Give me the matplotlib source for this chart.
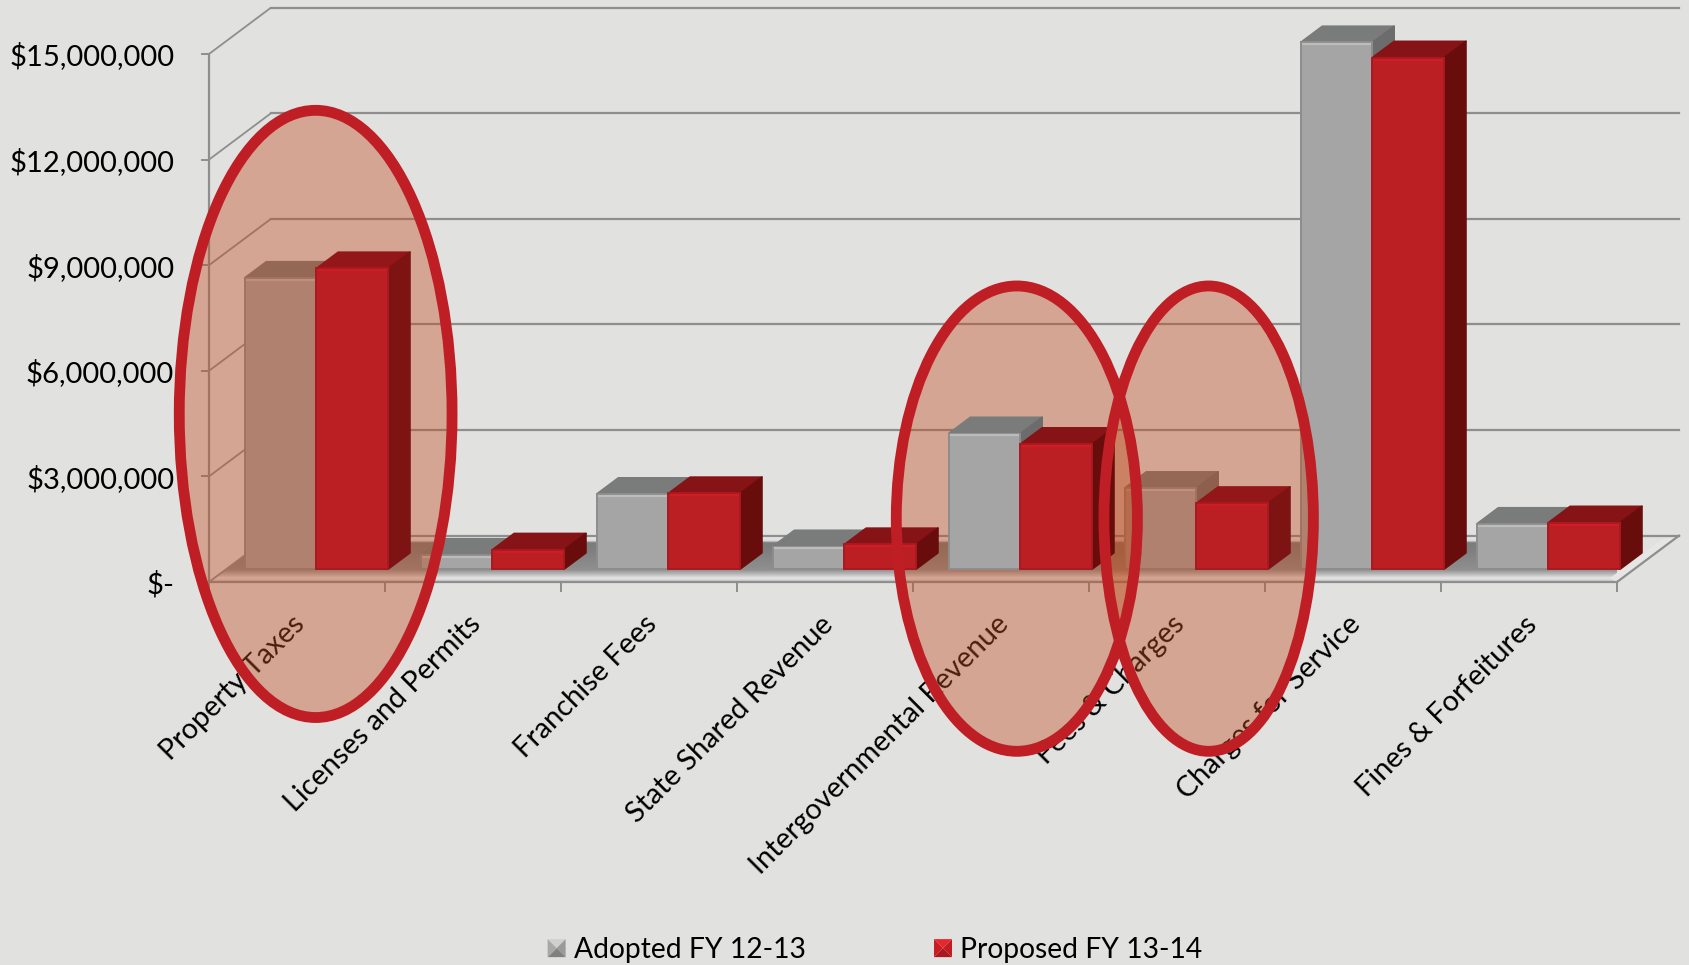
import numpy as np
import matplotlib
matplotlib.use("Agg")
import matplotlib.pyplot as plt
from matplotlib.patches import Ellipse, Polygon
from matplotlib.legend_handler import HandlerBase
from matplotlib.colors import LinearSegmentedColormap

categories = ["Property Taxes", "Licenses and Permits", "Franchise Fees", "State Shared Revenue",
              "Intergovernmental Revenue", "Fees & Charges", "Charges for Service", "Fines & Forfeitures"]
adopted = [8270000, 400000, 2130000, 640000, 3850000, 2300000, 14960000, 1280000]
proposed = [8540000, 550000, 2150000, 700000, 3550000, 1870000, 14530000, 1320000]
y_ticks = [0, 3000000, 6000000, 9000000, 12000000, 15000000]
y_labels = ["$-", "$3,000,000", "$6,000,000", "$9,000,000", "$12,000,000", "$15,000,000"]
series_names = ["Adopted FY 12-13", "Proposed FY 13-14"]
# highlight ovals: centre category position, centre value, width (categories), height (value)
ovals = [(0.606, 4775000, 1.55, 17250000),
         (4.59, 1800000, 1.37, 13220000),
         (5.68, 1800000, 1.19, 13220000)]

W, H = 1690, 965
BG = "#e1e1e0"
GRID = "#8e8e8e"
FONT = "Lato"
plt.rcParams["font.family"] = [FONT, "DejaVu Sans"]

fig = plt.figure(figsize=(W / 100, H / 100), dpi=100, facecolor=BG)
ax = fig.add_axes([209 / W, 1 - 582 / H, (1617 - 209) / W, (582 - 54) / H])
ax.patch.set_visible(False)
ax.set_xlim(0, 8)
ax.set_ylim(0, 15000000)

DX, DY = 0.352, 1316000      # full depth of the 3-D box, in data units
D0, D1 = 0.28, 0.63          # bar depth range
BW, SHIFT = 0.408, 0.012
FILL_Z = 10
RING_Z = 30


def pt(x, y, d):
    return (x + d * DX, y + d * DY)


# floor gradient
grad = LinearSegmentedColormap.from_list("floor", [
    (0.00, "#c4c4c4"), (0.08, "#e6e6e6"), (0.16, "#bcbcbc"), (0.26, "#8f8f8f"),
    (0.70, "#7d7f7e"), (0.84, "#7c7c7c"), (0.88, "#dcdcdc"), (1.00, "#ededed")])
im = ax.imshow(np.linspace(1, 0, 200).reshape(-1, 1), cmap=grad, vmin=0, vmax=1, aspect="auto",
               extent=(0, 8 + DX, 0, DY), zorder=1, interpolation="bilinear")
floor = Polygon([pt(0, 0, 0), pt(8, 0, 0), pt(8, 0, 1), pt(0, 0, 1)], closed=True, transform=ax.transData)
im.set_clip_path(floor)
ax.set_xlim(0, 8)
ax.set_ylim(0, 15000000)
# light right margin of the floor
ax.add_patch(Polygon([pt(7.93, 0, 0.08), pt(8, 0, 0), pt(8, 0, 1), pt(7.93, 0, 0.9)], closed=True,
                     fc="#e6e6e6", ec="none", zorder=1.1, clip_on=False))

# walls
for v in y_ticks:
    ax.plot([0, DX], [v, v + DY], color=GRID, lw=1.3, zorder=1.5, clip_on=False, solid_capstyle="butt")
    ax.plot([DX, 8 + DX], [v + DY, v + DY], color=GRID, lw=1.6, zorder=1.5, clip_on=False)
ax.plot([8, 8 + DX], [0, DY], color=GRID, lw=1.6, zorder=1.5, clip_on=False)

GRAY = ("#a5a5a5", "#7a7c7b", "#6c6c6c", "#8d8d8d", "#bcbcbc")
RED = ("#bb1f24", "#861315", "#690c0c", "#a81a1f", "#d01c24")
RED_TINT = ("#bb1f24", "#931618", "#7d1313", "#a81a1f", "#cc1c24")
x_idx = np.arange(len(categories))
for i in x_idx:
    for s, vals in enumerate((adopted, proposed)):
        if s == 0:
            front, top, side, edge, hi = GRAY
            # the adopted bars lie under the ovals, except the Intergovernmental one
            base_z = (FILL_Z + 1 if i == 4 else 2) + i * 0.1
        else:
            front, top, side, edge, hi = RED_TINT if i in (0, 5) else RED
            base_z = FILL_Z + 2 + i * 0.1
        v = vals[i]
        xl = i + 0.5 - BW + s * BW + SHIFT
        xr = xl + BW
        ax.add_patch(Polygon([pt(xl, v, D0), pt(xr, v, D0), pt(xr, v, D1), pt(xl, v, D1)], closed=True,
                             fc=top, ec=top, lw=1.2, joinstyle="round", zorder=base_z, clip_on=False))
        ax.add_patch(Polygon([pt(xr, 0, D0), pt(xr, v, D0), pt(xr, v, D1), pt(xr, 0, D1)], closed=True,
                             fc=side, ec=side, lw=1.2, joinstyle="round", zorder=base_z, clip_on=False))
        ax.bar(xl + D0 * DX, v, BW, bottom=D0 * DY, align="edge", color=front, edgecolor=edge, lw=1.4,
               zorder=base_z + 0.001, clip_on=False)
        ax.plot([xl + D0 * DX + 0.008, xr + D0 * DX - 0.008], [v + D0 * DY - 55000] * 2, color=hi, lw=1.6,
                zorder=base_z + 0.002, clip_on=False, solid_capstyle="butt")

# axes
for sp in ("top", "right"):
    ax.spines[sp].set_visible(False)
for sp in ("left", "bottom"):
    ax.spines[sp].set_color(GRID)
    ax.spines[sp].set_linewidth(1.6)
    ax.spines[sp].set_zorder(1.6)
ax.set_axisbelow(True)
ax.set_yticks(y_ticks, y_labels)
ax.tick_params(axis="y", length=6, width=1.4, color=GRID, pad=19, labelsize=21, labelcolor="black")
ax.set_xticks(np.arange(len(categories) + 1), [""] * (len(categories) + 1))
ax.tick_params(axis="x", which="major", length=7, width=1.4, color=GRID)
ax.set_xticks(x_idx + 0.47, categories, minor=True)
ax.tick_params(axis="x", which="minor", length=0, pad=21, labelsize=20.8, labelcolor="black")
for lab in ax.get_xticklabels(minor=True):
    lab.set_rotation(45)
    lab.set_ha("right")
    lab.set_rotation_mode("anchor")

# highlight ovals
for cx, cy, w, h in ovals:
    ax.add_patch(Ellipse((cx, cy), w, h, fc=(191 / 255, 76 / 255, 29 / 255, 0.4), ec="none",
                         zorder=FILL_Z, clip_on=False))
for cx, cy, w, h in ovals:
    ax.add_patch(Ellipse((cx, cy), w, h, fc="none", ec="#be1e24", lw=7.8, zorder=RING_Z, clip_on=False))


# legend with pyramid-shaded markers
class PyramidHandler(HandlerBase):
    def __init__(self, shades):
        super().__init__()
        self.shades = shades

    def create_artists(self, legend, orig, xd, yd, width, height, fontsize, trans):
        s = 18 / 100 * 72
        x0, y0 = -xd + width - s, -yd + height / 2 - s / 2
        c = (x0 + s / 2, y0 + s / 2)
        corners = [(x0, y0 + s), (x0 + s, y0 + s), (x0 + s, y0), (x0, y0)]
        arts = []
        for k, col in enumerate(self.shades):
            arts.append(Polygon([corners[k], corners[(k + 1) % 4], c], closed=True, fc=col, ec="none", transform=trans))
        return arts


h1, = ax.plot([], [], label=series_names[0])
h2, = ax.plot([], [], label=series_names[1])
fig.legend(handles=[h1, h2], loc="center", bbox_to_anchor=(870 / W, 1 - 950 / H), ncols=2, frameon=False,
           fontsize=20.3, handlelength=1.0, handletextpad=0.3, columnspacing=4.18, labelcolor="black",
           handler_map={h1: PyramidHandler(["#d0d0d0", "#9a9a9a", "#808080", "#a8a8a8"]),
                        h2: PyramidHandler(["#e8262c", "#c01c22", "#a81a1f", "#c81c22"])})

fig.savefig("out.png", dpi=100, facecolor=BG)
